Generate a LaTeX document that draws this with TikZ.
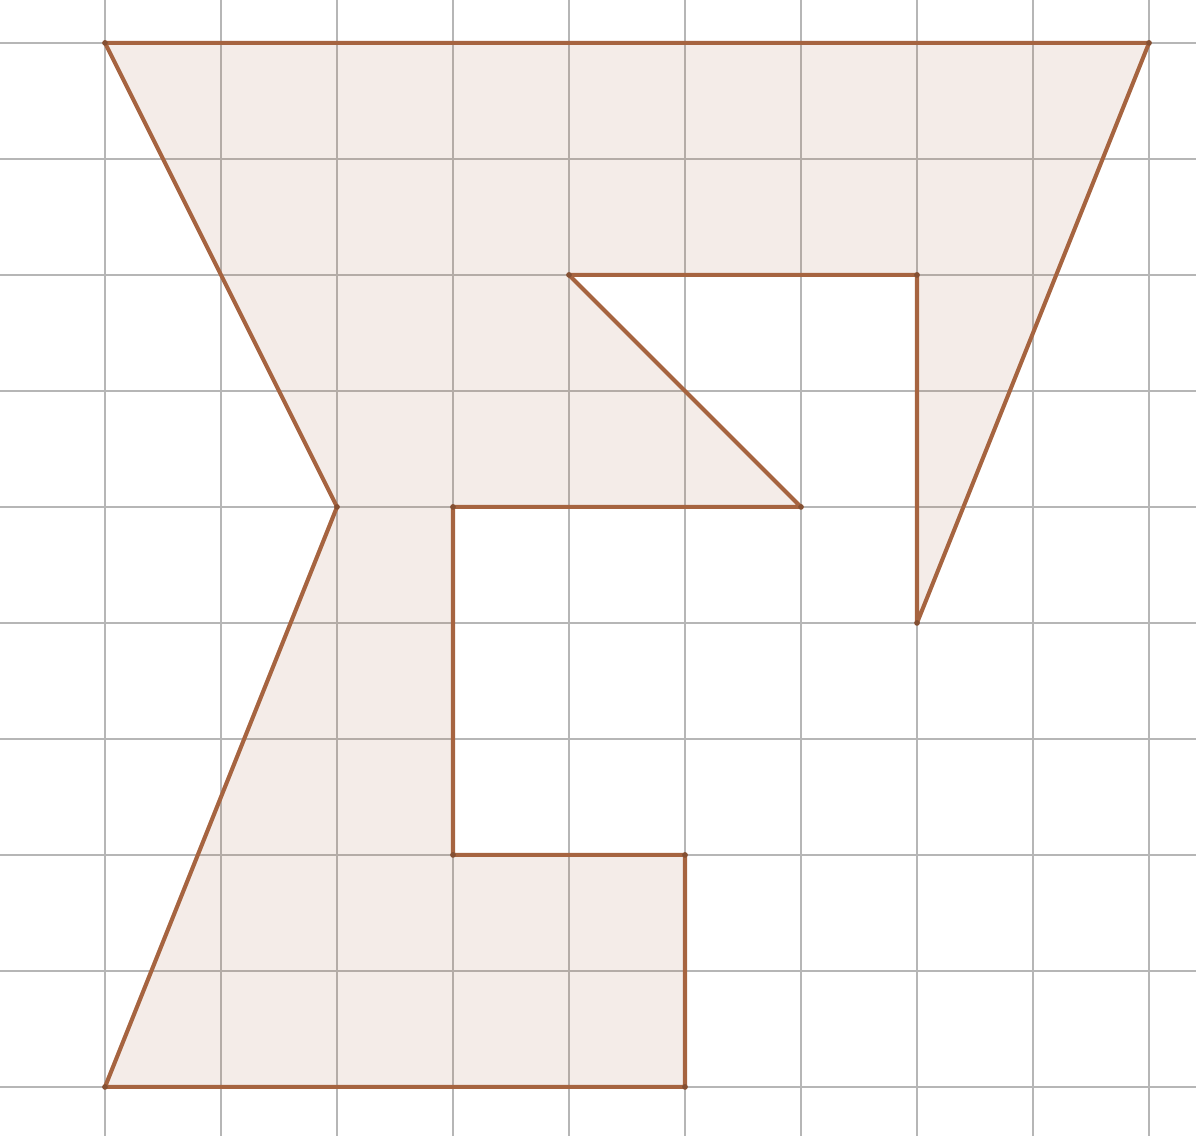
\documentclass[tikz,border=0pt]{standalone}
\usepackage{tikz}
\definecolor{edgeBrown}{RGB}{166,100,64}
\definecolor{gridGray}{RGB}{182,182,182}
\begin{document}
\begin{tikzpicture}[
    polyGridStyle/.style={gridGray, line width=0.5pt},
    polyEdgeStyle/.style={edgeBrown, line width=1pt, line join=round, fill=edgeBrown, fill opacity=0.12},
    polyVertexStyle/.style={edgeBrown!80!black}
]
    \useasboundingbox (-0.905,-0.42) rectangle (9.405,9.37);
    % 网格
    \foreach \i in {0,...,9} {
        \draw[polyGridStyle] (\i,-0.42) -- (\i,9.37);
        \draw[polyGridStyle] (-0.905,\i) -- (9.405,\i);
    }

    % 顶点
    \coordinate (A) at (0,9);
    \coordinate (B) at (9,9);
    \coordinate (C) at (7,4);
    \coordinate (D) at (7,7);
    \coordinate (E) at (4,7);
    \coordinate (F) at (6,5);
    \coordinate (G) at (3,5);
    \coordinate (H) at (3,2);
    \coordinate (I) at (5,2);
    \coordinate (J) at (5,0);
    \coordinate (K) at (0,0);
    \coordinate (L) at (2,5);

    % 多边形
    \draw[polyEdgeStyle] (A) -- (B) -- (C) -- (D) -- (E) -- (F) -- (G)
        -- (H) -- (I) -- (J) -- (K) -- (L) -- cycle;

    \foreach \p in {A,B,C,D,E,F,G,H,I,J,K,L}
        \fill[polyVertexStyle] (\p) circle (0.7pt);
\end{tikzpicture}
\end{document}
